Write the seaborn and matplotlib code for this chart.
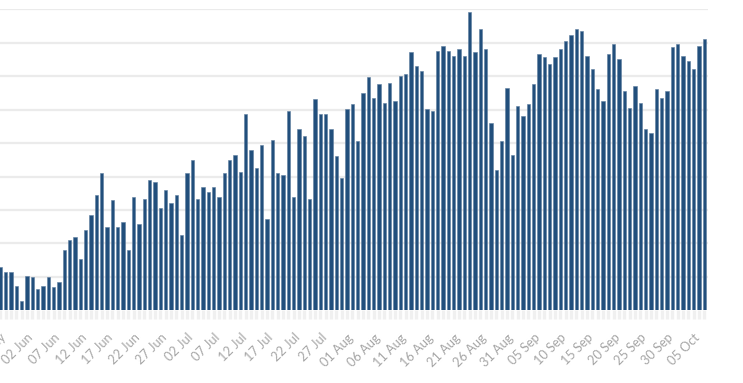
import matplotlib
matplotlib.use("Agg")
import matplotlib.pyplot as plt
import seaborn as sns
import pandas as pd
import numpy as np

start_date = "2020-05-28"
values = [
    129, 114, 114, 74, 29, 104, 99, 64, 74, 99, 69, 84, 180, 210, 220, 155, 240, 285, 346, 411, 250, 331, 250, 265,
    180, 341, 260, 335, 391, 386, 306, 361, 321, 346, 225, 411, 451, 335, 371, 356, 371, 341, 411, 451, 466, 416, 588,
    482, 426, 497, 275, 512, 411, 406, 597, 341, 543, 522, 335, 633, 588, 588, 543, 462, 396, 603, 618, 507, 653,
    699, 638, 678, 623, 683, 628, 703, 709, 774, 734, 719, 603, 598, 779, 794, 779, 764, 784, 764, 894, 774, 844, 784,
    563, 422, 507, 668, 467, 613, 583, 618, 678, 769, 759, 739, 759, 784, 809, 825, 844, 839, 764, 723, 663, 628,
    769, 799, 754, 658, 608, 673, 623, 543, 532, 663, 638, 658, 789, 799, 764, 749, 723, 794, 814,
]
dates = pd.date_range(start_date, periods=len(values), freq="D")
day_labels = [d.strftime("%d %b") for d in dates]
label_every = 5

df = pd.DataFrame({"day": day_labels, "value": values})

sns.set_theme(style="white")
plt.rcParams["font.family"] = ["Lato", "DejaVu Sans"]

W, H = 743, 383
fig = plt.figure(figsize=(W / 100, H / 100), dpi=100)
left_px, right_px = 0.0, 707.7
top_px, bottom_px = 9.0, 310.3
ax = fig.add_axes([left_px / W, 1 - bottom_px / H, (right_px - left_px) / W, (bottom_px - top_px) / H])

sns.barplot(data=df, x="day", y="value", color="#224f7c", saturation=1, width=0.66,
            linewidth=0.4, edgecolor="#5f7fa0", ax=ax, zorder=3)

pitch = 5.3333
ax.set_xlim(-0.33 / pitch, (right_px - 0.33) / pitch)
ax.set_ylim(0, 904)
ax.set_yticks(np.arange(100, 1000, 100.44))
ax.yaxis.grid(True, color="#ebebeb", linewidth=1.6, zorder=0)
ax.set_yticklabels([])
ax.tick_params(axis="y", length=0)

ax.set_xticks(range(len(values)))
ax.set_xticklabels([lab if i % label_every == 0 else "" for i, lab in enumerate(day_labels)],
                   rotation=45, ha="right", va="top", rotation_mode="anchor",
                   fontsize=9.2, color="#a6a6a6")
ax.tick_params(axis="x", length=6.8, width=2.4, color="#f0f0f0", pad=8.5, bottom=True)
ax.set_xlabel("")
ax.set_ylabel("")
for s in ax.spines.values():
    s.set_visible(False)

fig.savefig("out.png", dpi=100)
